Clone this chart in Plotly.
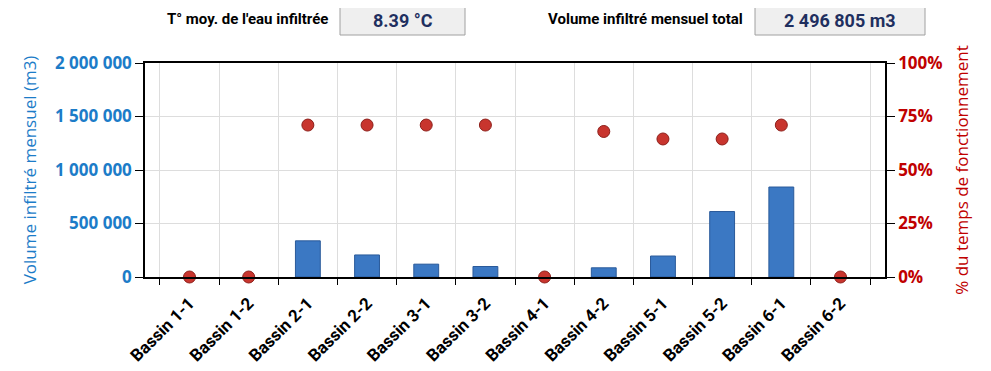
import plotly.graph_objects as go

categories = ["Bassin 1-1", "Bassin 1-2", "Bassin 2-1", "Bassin 2-2", "Bassin 3-1", "Bassin 3-2",
              "Bassin 4-1", "Bassin 4-2", "Bassin 5-1", "Bassin 5-2", "Bassin 6-1", "Bassin 6-2"]
volumes = [0, 0, 338000, 206000, 120000, 98000, 0, 86000, 196000, 612000, 840805, 0]
pct_fonctionnement = [0, 0, 71, 71, 71, 71, 0, 68, 64.5, 64.5, 71, 0]
y_ticks = [0, 500000, 1000000, 1500000, 2000000]
y_ticktext = ["0", "500 000", "1 000 000", "1 500 000", "2 000 000"]
pct_ticks = [0, 25, 50, 75, 100]
pct_ticktext = ["0%", "25%", "50%", "75%", "100%"]
temp_label = "T° moy. de l'eau infiltrée"
temp_value = "8.39 °C"
total_label = "Volume infiltré mensuel total"
total_value = "2 496 805 m3"

FONT = "Open Sans"
NARROW = "Roboto"
BLUE_TXT = "#1C7CC8"
RED_TXT = "#C00000"

# page offset (body margin) compensation
OFF = 8
W, H = 991, 371
L, T = 145 - OFF, 63 - OFF
R = W - (885 - OFF)
B = H - (277 - OFF)

fig = go.Figure()
fig.add_trace(go.Bar(
    x=categories, y=volumes, width=0.42,
    marker=dict(color="#3B78C3",
                line=dict(color="#2A5A9A", width=[1 if v > 0 else 0 for v in volumes])),
    yaxis="y", showlegend=False,
))
fig.add_trace(go.Scatter(
    x=categories, y=pct_fonctionnement, mode="markers", cliponaxis=False,
    marker=dict(size=12, color="#C8352E", line=dict(color="#8E1F1A", width=1)),
    yaxis="y2", showlegend=False,
))

fig.update_layout(
    width=W, height=H,
    margin=dict(l=L, r=R, t=T, b=B, autoexpand=False),
    paper_bgcolor="white", plot_bgcolor="white",
    font=dict(family=FONT),
    xaxis=dict(
        type="category", tickangle=-45, showgrid=True, gridcolor="#DDDDDD",
        tickson="boundaries", ticks="outside", ticklen=6, tickcolor="black",
        ticklabelstandoff=8,
        showline=True, linecolor="black", linewidth=1.5, mirror=True,
        tickfont=dict(family=NARROW, size=17, color="black", weight="bold"),
    ),
    yaxis=dict(
        range=[0, 2000000], tickvals=y_ticks, ticktext=y_ticktext,
        showgrid=True, gridcolor="#DDDDDD", zeroline=False,
        ticks="outside", ticklen=8, tickcolor="black",
        showline=True, linecolor="black", linewidth=1.5,
        tickfont=dict(family=FONT, size=17, color=BLUE_TXT, weight="bold"),
        title=dict(text="Volume infiltré mensuel (m3)", standoff=14,
                   font=dict(family=FONT, size=17, color=BLUE_TXT)),
    ),
    yaxis2=dict(
        range=[0, 100], tickvals=pct_ticks, ticktext=pct_ticktext,
        overlaying="y", side="right", showgrid=False, zeroline=False,
        ticks="outside", ticklen=8, tickcolor="black",
        showline=True, linecolor="black", linewidth=1.5,
        tickfont=dict(family=FONT, size=17, color=RED_TXT, weight="bold"),
        title=dict(text="% du temps de fonctionnement", standoff=14,
                   font=dict(family=FONT, size=17, color=RED_TXT)),
    ),
)

pw = W - L - R
ph = H - T - B
def px(x):
    return (x - OFF - L) / pw
def py(y):
    return (H - B - (y - OFF)) / ph

shapes = []
for (x0, x1, txt) in [(340, 465, temp_value), (755, 925, total_value)]:
    shapes.append(dict(type="rect", xref="paper", yref="paper",
                       x0=px(x0), x1=px(x1), y0=py(35), y1=py(5),
                       fillcolor="#EFEFEF", line=dict(color="#A0A0A0", width=1)))
    fig.add_annotation(x=px((x0 + x1) / 2), y=py(20), xref="paper", yref="paper",
                       text=txt, showarrow=False, xanchor="center", yanchor="middle",
                       font=dict(family=NARROW, size=18, color="#1F2F5F", weight="bold"))
fig.update_layout(shapes=shapes)

for (xr, txt) in [(330, temp_label), (745, total_label)]:
    fig.add_annotation(x=px(xr), y=py(19), xref="paper", yref="paper", text=txt,
                       showarrow=False, xanchor="right", yanchor="middle",
                       font=dict(family=NARROW, size=15, color="black", weight="bold"))

fig.write_html("out.html")
